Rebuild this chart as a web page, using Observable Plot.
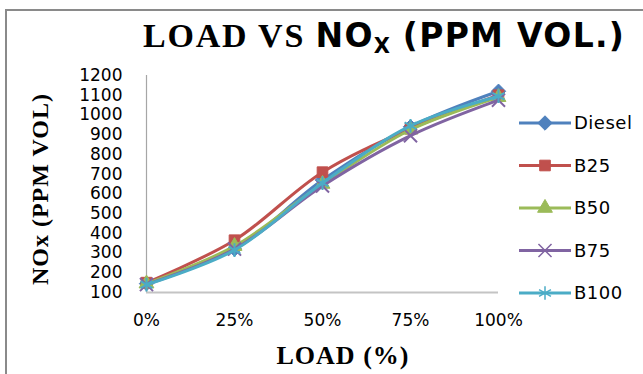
<!DOCTYPE html>
<html>
<head>
<meta charset="utf-8">
<script src="https://cdn.jsdelivr.net/npm/d3@7"></script>
<script src="https://cdn.jsdelivr.net/npm/@observablehq/plot@0.6"></script>
<style>
  html, body { margin: 0; padding: 0; background: #fff; }
  #chart { position: relative; width: 643px; height: 374px; overflow: hidden; background: #fff; }
  #frame { position: absolute; left: 5px; top: 9px; width: 700px; height: 420px;
           border-left: 2px solid #8a8a8a; border-top: 2px solid #8a8a8a; }
  #title { position: absolute; left: 143px; top: 19px; white-space: nowrap; color: #000; line-height: 1; }
  #title .serif { font-family: "Liberation Serif", serif; font-weight: bold; font-size: 34px; letter-spacing: 1.8px; }
  #title .sans { font-family: "DejaVu Sans", sans-serif; font-weight: bold; font-size: 33px; letter-spacing: 1.3px; }
  #title sub { font-size: 21px; vertical-align: -6px; letter-spacing: 0; }
  #ytitle { position: absolute; left: 40px; top: 189px; transform: translate(-50%, -50%) rotate(-90deg);
            white-space: nowrap; font-family: "Liberation Serif", serif; font-weight: bold; font-size: 24px; letter-spacing: 1px; }
  #xtitle { position: absolute; left: 343px; top: 356px; transform: translate(-50%, -50%);
            white-space: nowrap; font-family: "Liberation Serif", serif; font-weight: bold; font-size: 26px; letter-spacing: 1px; }
  #plot, #legend { position: absolute; left: 0; top: 0; }
</style>
</head>
<body>
<div id="chart">
  <div id="frame"></div>
  <div id="plot"></div>
  <svg id="legend" width="643" height="374"></svg>
  <div id="title"><span class="serif">LOAD VS </span><span class="sans">NO<sub>X</sub> (PPM VOL.)</span></div>
  <div id="ytitle">NOx (PPM VOL)</div>
  <div id="xtitle">LOAD (%)</div>
</div>
<script>
// Engine load steps on the category axis
const loads = ["0%", "25%", "50%", "75%", "100%"];

// NOx emissions (ppm vol.) per fuel blend
const diesel = [145, 320, 670, 940, 1120];
const b25    = [150, 365, 710, 930, 1100];
const b50    = [145, 335, 650, 925, 1090];
const b75    = [140, 320, 640, 895, 1075];
const b100   = [140, 315, 655, 945, 1095];

const seriesNames = ["Diesel", "B25", "B50", "B75", "B100"];
const seriesValues = [diesel, b25, b50, b75, b100];
const seriesColors = ["#4F81BD", "#C0504D", "#9BBB59", "#8064A2", "#4BACC6"];
const seriesSymbols = ["diamond2", "square", "triangle", "times", "asterisk"];
const yTicks = [100, 200, 300, 400, 500, 600, 700, 800, 900, 1000, 1100, 1200];

// Long-format table built from the arrays above
const rows = seriesNames.flatMap((name, i) =>
  loads.map((load, j) => ({ series: name, load, nox: seriesValues[i][j] }))
);

const isOpen = s => s === "times" || s === "asterisk";
const markerR = { diamond2: 6.5, square: 6, triangle: 5.5, times: 6, asterisk: 6.5 };

const marks = [
  Plot.axisY({ ticks: yTicks, tickFormat: d => String(d), tickSize: 0, tickPadding: 24, label: null,
               fontSize: 17, fontFamily: "DejaVu Sans", fill: "#000" }),
  Plot.axisX({ tickSize: 0, tickPadding: 21, label: null,
               fontSize: 17, fontFamily: "DejaVu Sans", fill: "#000" }),
  Plot.ruleX([loads[0]], { stroke: "#a6a6a6", strokeWidth: 1.2 }),
  Plot.ruleY([100], { stroke: "#c4c4c4", strokeWidth: 2 })
];

seriesNames.forEach((name, i) => {
  const data = rows.filter(d => d.series === name);
  const sym = seriesSymbols[i];
  marks.push(Plot.line(data, {
    x: "load", y: "nox", stroke: seriesColors[i], strokeWidth: 3, curve: "catmull-rom"
  }));
  marks.push(Plot.dot(data, {
    x: "load", y: "nox", symbol: () => sym, r: markerR[sym],
    fill: isOpen(sym) ? "none" : seriesColors[i],
    stroke: seriesColors[i], strokeWidth: isOpen(sym) ? 2 : 1
  }));
});

const chart = Plot.plot({
  width: 643, height: 374,
  marginLeft: 146, marginRight: 145, marginTop: 75, marginBottom: 82,
  style: { background: "transparent", color: "#000" },
  x: { type: "point", domain: loads, padding: 0, label: null },
  y: { domain: [100, 1200], label: null },
  symbol: { type: "identity" },
  marks
});
document.getElementById("plot").append(chart);

// Legend on the right
const legend = d3.select("#legend");
const symbolType = {
  diamond2: d3.symbolDiamond2, square: d3.symbolSquare, triangle: d3.symbolTriangle,
  times: d3.symbolTimes, asterisk: d3.symbolAsterisk
};
const legendY = d3.scalePoint().domain(seriesNames).range([123, 293]);
seriesNames.forEach((name, i) => {
  const y = legendY(name);
  const sym = seriesSymbols[i];
  const g = legend.append("g");
  g.append("line").attr("x1", 519).attr("x2", 571).attr("y1", y).attr("y2", y)
    .attr("stroke", seriesColors[i]).attr("stroke-width", 3);
  g.append("path")
    .attr("d", d3.symbol(symbolType[sym], Math.PI * markerR[sym] ** 2)())
    .attr("transform", `translate(545,${y})`)
    .attr("fill", isOpen(sym) ? "none" : seriesColors[i])
    .attr("stroke", seriesColors[i]).attr("stroke-width", isOpen(sym) ? 1.5 : 1);
  g.append("text").attr("x", 574).attr("y", y).attr("dy", "0.35em")
    .attr("font-family", "DejaVu Sans").attr("font-size", 18).attr("letter-spacing", 0.5)
    .attr("fill", "#000").text(name);
});
</script>
</body>
</html>
